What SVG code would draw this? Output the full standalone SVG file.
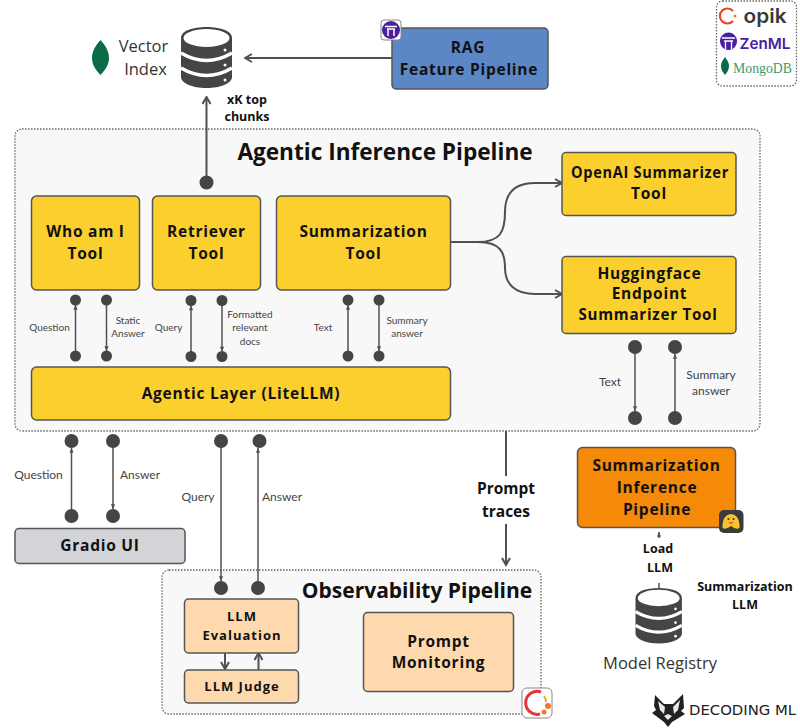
<svg xmlns="http://www.w3.org/2000/svg" width="800" height="728" viewBox="0 0 800 728">
<style>
text{font-family:"Open Sans","Noto Sans","Liberation Sans",sans-serif;text-anchor:middle;fill:#111}
.b{font-weight:700;font-size:15.5px;letter-spacing:.75px}
.t{font-weight:700;font-size:22.6px}
.m{font-weight:700;font-size:12.5px}
.n{font-size:16.5px;fill:#333}
.s{font-family:Lato,"Noto Sans",sans-serif;font-size:10px;fill:#444}
.s2{font-family:Lato,"Noto Sans",sans-serif;font-size:12px;fill:#444}
.box{stroke:#555;stroke-width:1.5}
.y{fill:#fbd02e}.o{fill:#ffd9ae}
.group{fill:#f8f8f8;stroke:#666;stroke-width:1.3;stroke-dasharray:1.5 1.5}
.c{fill:none;stroke:#505050;stroke-width:2}
.c2{fill:none;stroke:#505050;stroke-width:1.5}
.d{fill:#454545}
.badge{fill:#fff;stroke:#888;stroke-width:1}
</style>
<defs>
<marker id="a" viewBox="0 0 10 10" refX="8.500" refY="5" markerWidth="5" markerHeight="5" orient="auto"><path d="M1.500 1L8.500 5L1.500 9" fill="none" stroke="#505050" stroke-width="2"/></marker>
<marker id="a2" viewBox="0 0 10 10" refX="9" refY="5" markerWidth="4" markerHeight="4" orient="auto"><path d="M1 1.500L9 5L1 8.500Z" fill="#505050"/></marker>
<g id="db">
<path fill="#454545" d="M0 11C0 4 11 0 25.500 0S51 4 51 11V50C51 56 40 61 25.500 61S0 56 0 50Z"/>
<ellipse cx="25.500" cy="11" rx="23" ry="9" fill="#fff"/>
<path d="M0 26Q25.500 41 51 26M0 41Q25.500 56 51 41" fill="none" stroke="#fff" stroke-width="3.500"/>
<circle cx="44" cy="23" r="1.500" fill="#fff"/><circle cx="44" cy="38" r="1.500" fill="#fff"/><circle cx="44" cy="53" r="1.500" fill="#fff"/>
</g>
</defs>

<rect id="inference-group" class="group" x="15" y="129" width="745" height="302" rx="7"/>
<rect id="observability-group" class="group" x="162" y="570" width="379" height="144" rx="7"/>
<rect id="tools-legend" x="716.500" y="1" width="80" height="85" rx="6" fill="#fff" stroke="#666" stroke-width="1.3" stroke-dasharray="1.5 1.5"/>

<g id="connectors">
<path class="c" d="M392 58H245" marker-end="url(#a)"/>
<path class="c" d="M206.500 182V97" marker-end="url(#a)"/>
<path class="c" d="M451 242H478C500 242 505 232 505 212C505 192 515 183 535 183H562" marker-end="url(#a)"/>
<path class="c" d="M451 242H478C500 242 505 252 505 268C505 284 515 294 535 294H562" marker-end="url(#a)"/>
<path class="c2" d="M75.500 356V305" marker-end="url(#a2)"/>
<path class="c2" d="M106.500 300V351" marker-end="url(#a2)"/>
<path class="c2" d="M191 356V305.500" marker-end="url(#a2)"/>
<path class="c2" d="M222 301V351.500" marker-end="url(#a2)"/>
<path class="c2" d="M348 356V305" marker-end="url(#a2)"/>
<path class="c2" d="M379 301V351" marker-end="url(#a2)"/>
<path class="c2" d="M635 347V411" marker-end="url(#a2)"/>
<path class="c2" d="M675 417V354" marker-end="url(#a2)"/>
<path class="c2" d="M71.500 516V448" marker-end="url(#a2)"/>
<path class="c2" d="M113 441V509" marker-end="url(#a2)"/>
<path class="c2" d="M221 441V581" marker-end="url(#a2)"/>
<path class="c2" d="M258 588V448" marker-end="url(#a2)"/>
<path class="c" d="M506 431V476M506 524V565" marker-end="url(#a)"/>
<path class="c" d="M225 653V669" marker-end="url(#a)"/>
<path class="c" d="M258.500 670V653" marker-end="url(#a)"/>
<path class="c2" d="M659 538V532" marker-end="url(#a2)"/>
<path class="c2" d="M659 583V589"/>
<circle class="d" cx="206.500" cy="182.500" r="7"/>
<g class="d">
<circle cx="75.500" cy="300" r="5.500"/><circle cx="106.500" cy="300" r="5.500"/><circle cx="75.500" cy="356" r="5.500"/><circle cx="106.500" cy="356" r="5.500"/>
<circle cx="191" cy="300.500" r="5.500"/><circle cx="222" cy="300.500" r="5.500"/><circle cx="191" cy="356.500" r="5.500"/><circle cx="222" cy="356.500" r="5.500"/>
<circle cx="348" cy="300" r="5.500"/><circle cx="379" cy="300" r="5.500"/><circle cx="348" cy="356" r="5.500"/><circle cx="379" cy="356" r="5.500"/>
<circle cx="635" cy="347" r="7"/><circle cx="675" cy="347" r="7"/><circle cx="635" cy="418" r="7"/><circle cx="675" cy="418" r="7"/>
<circle cx="71.500" cy="441" r="7"/><circle cx="113" cy="441" r="7"/><circle cx="71.500" cy="516" r="7"/><circle cx="113" cy="516" r="7"/>
<circle cx="221" cy="441" r="7"/><circle cx="259.500" cy="441" r="7"/><circle cx="221" cy="588" r="7"/><circle cx="258" cy="588" r="7"/>
</g>
</g>

<g id="vector-index">
<path d="M100.500 40C106 46 109 52 109 58C109 66 104 71 100.500 75C97 71 92 66 92 58C92 52 95 46 100.500 40Z" fill="#0b6b45"/>
<text class="n" x="143.500" y="52">Vector</text><text class="n" x="145.500" y="75">Index</text>
<use href="#db" x="181" y="27"/>
</g>
<g id="xk-label"><text class="m" x="247" y="104">xK top</text><text class="m" x="247" y="121">chunks</text></g>

<g id="rag-pipeline">
<rect class="box" x="392" y="28" width="156" height="61" rx="4" fill="#5b87c6"/>
<text class="b" x="468" y="53">RAG</text><text class="b" x="469" y="75">Feature Pipeline</text>
<rect class="badge" x="381" y="20" width="20" height="20" rx="3"/>
<circle cx="391" cy="30" r="9" fill="#4b1fa0"/>
<path d="M385 26.500H397M387 29H395M388 29V36M394 29V36" stroke="#fff" stroke-width="1.5" fill="none"/>
</g>

<g id="legend">
<path d="M733 11A7.500 7.500 0 1 0 733 21" fill="none" stroke="#e8442e" stroke-width="2.200"/>
<circle cx="735" cy="16" r="1.500" fill="#f07a28"/>
<text x="765" y="23" style="font-family:Inter,sans-serif;font-weight:600;font-size:20px;fill:#3a3a3a" textLength="43" lengthAdjust="spacingAndGlyphs">opik</text>
<path d="M720 41A8.500 8.500 0 0 1 737 41C737 46 733 50 728.500 50C724 50 720 46 720 41Z" fill="#4b1fa0"/>
<path d="M722 38H735M724 41H733M725.500 41V49M731.500 41V49" stroke="#fff" stroke-width="1.300" fill="none"/>
<text x="765" y="49" style="font-family:Inter,sans-serif;font-weight:600;font-size:15px;fill:#4b1fa0" textLength="51" lengthAdjust="spacingAndGlyphs">ZenML</text>
<path d="M725 57C728 61 729 63 729 66C729 70 727 72 725 75C723 72 721 70 721 66C721 63 722 61 725 57Z" fill="#0b6b45"/>
<text x="762.500" y="73" style="font-family:'Liberation Serif',serif;font-size:15.500px;fill:#3e9a6c" textLength="59" lengthAdjust="spacingAndGlyphs">MongoDB</text>
</g>

<text class="t" x="385" y="160">Agentic Inference Pipeline</text>

<g id="who-am-i"><rect class="box y" x="31.500" y="196" width="108" height="94" rx="5"/><text class="b" x="85.500" y="237">Who am I</text><text class="b" x="85.500" y="259">Tool</text></g>
<g id="retriever"><rect class="box y" x="152.500" y="196" width="108" height="94" rx="5"/><text class="b" x="206.500" y="237">Retriever</text><text class="b" x="206.500" y="259">Tool</text></g>
<g id="summarization-tool"><rect class="box y" x="276.500" y="196" width="174" height="94" rx="5"/><text class="b" x="363.500" y="237">Summarization</text><text class="b" x="363.500" y="259">Tool</text></g>
<g id="openai"><rect class="box y" x="562" y="152.500" width="174" height="63" rx="4"/><text class="b" x="650" y="178" textLength="158" lengthAdjust="spacingAndGlyphs">OpenAI Summarizer</text><text class="b" x="649" y="199">Tool</text></g>
<g id="huggingface"><rect class="box y" x="562" y="256.500" width="174" height="77" rx="4"/><text class="b" x="649.500" y="279">Huggingface</text><text class="b" x="649.500" y="299">Endpoint</text><text class="b" x="648" y="320" textLength="139" lengthAdjust="spacingAndGlyphs">Summarizer Tool</text></g>
<g id="agentic-layer"><rect class="box y" x="31.500" y="367" width="419" height="53" rx="5"/><text class="b" x="241" y="399">Agentic Layer (LiteLLM)</text></g>

<g id="labels">
<text class="s" x="49.500" y="331">Question</text>
<text class="s" x="128" y="324">Static</text><text class="s" x="128" y="337">Answer</text>
<text class="s" x="168.500" y="331">Query</text>
<text class="s" x="250" y="318">Formatted</text><text class="s" x="250" y="331">relevant</text><text class="s" x="250" y="345">docs</text>
<text class="s" x="323" y="331">Text</text>
<text class="s" x="407" y="324">Summary</text><text class="s" x="407" y="337">answer</text>
<text class="s2" x="610" y="386">Text</text>
<text class="s2" x="711" y="379">Summary</text><text class="s2" x="711" y="395">answer</text>
<text class="s2" x="38.500" y="479">Question</text>
<text class="s2" x="140" y="479">Answer</text>
<text class="s2" x="198" y="501">Query</text>
<text class="s2" x="282" y="501">Answer</text>
</g>
<g id="prompt-traces"><text class="m" x="506" y="494" style="font-size:15.500px">Prompt</text><text class="m" x="506" y="517" style="font-size:15.500px">traces</text></g>

<g id="gradio"><rect x="15" y="528.500" width="170" height="35" rx="4" fill="#d3d4d8" stroke="#555" stroke-width="1.500"/><text class="b" x="100" y="551">Gradio UI</text></g>

<text class="t" x="417" y="598" style="font-size:21px">Observability Pipeline</text>
<g id="llm-evaluation"><rect class="box o" x="184.500" y="599" width="114" height="54" rx="4"/><text class="m" x="242" y="621" style="font-size:13px;letter-spacing:1px">LLM</text><text class="m" x="242" y="640" style="font-size:13px;letter-spacing:1px">Evaluation</text></g>
<g id="llm-judge"><rect class="box o" x="184.500" y="670" width="114" height="33" rx="4"/><text class="m" x="242" y="691" style="font-size:13px;letter-spacing:1px">LLM Judge</text></g>
<g id="prompt-monitoring"><rect class="box o" x="363.500" y="612.500" width="150" height="79" rx="4"/><text class="b" x="438.500" y="647">Prompt</text><text class="b" x="438.500" y="668">Monitoring</text></g>
<g id="opik-badge"><rect class="badge" x="522" y="688" width="30" height="30" rx="5"/><path d="M541 692A11.500 11.500 0 1 0 540 714" fill="none" stroke="#e8333a" stroke-width="3"/><path d="M544 696A11 11 0 0 1 546 702" fill="none" stroke="#f5a623" stroke-width="2"/><circle cx="548" cy="706" r="3" fill="#f07a28"/><circle cx="544" cy="712" r="2.500" fill="#f07a28"/></g>

<g id="summarization-pipeline"><rect x="577.500" y="447.500" width="158" height="80" rx="5" fill="#f48a08" stroke="#555" stroke-width="1.500"/><text class="b" x="656.500" y="471">Summarization</text><text class="b" x="657" y="493">Inference</text><text class="b" x="657" y="515">Pipeline</text>
<rect x="719" y="510" width="24.500" height="23" rx="5" fill="#3b3b3b"/><path d="M722.500 528Q722 515 731 514Q740 515 739.500 528Q736 530 731 526Q726 530 722.500 528Z" fill="#fbc02d"/><circle cx="728.500" cy="519" r="1" fill="#333"/><circle cx="733.500" cy="519" r="1" fill="#333"/><path d="M729 522Q731 525 733 522" stroke="#a33" fill="none"/></g>
<g id="load-llm"><text class="m" x="658" y="553">Load</text><text class="m" x="660" y="572">LLM</text></g>
<g id="model-registry">
<use href="#db" transform="translate(635.500 588) scale(.91)"/>
<text class="n" x="660" y="669">Model Registry</text>
</g>
<g id="summarization-llm"><text class="m" x="745" y="591">Summarization</text><text class="m" x="745" y="609">LLM</text></g>
<g id="decoding-ml">
<path d="M655 695L664 704H673L683 694L684 708L681 711L685 714L672 722L668 727L664 722L652 713L656 710L654 706Z" fill="#222"/>
<path d="M658 701L665 707L664 714L660 710ZM680 700L673 707L674 714L678 710ZM664 716L668 714L672 716L668 720Z" fill="#e8e8e8"/>
<text x="742.500" y="715" style="font-family:'DejaVu Sans',sans-serif;font-size:14px;fill:#222" textLength="107" lengthAdjust="spacingAndGlyphs">DECODING ML</text>
</g>
</svg>
